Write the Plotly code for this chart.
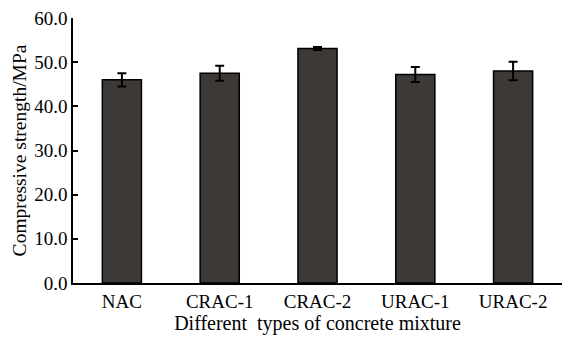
import plotly.graph_objects as go

categories = ["NAC", "CRAC-1", "CRAC-2", "URAC-1", "URAC-2"]
strength = [46.0, 47.5, 53.1, 47.2, 48.0]
errors = [1.5, 1.7, 0.35, 1.7, 2.1]

fig = go.Figure()
fig.add_trace(go.Bar(
    x=categories, y=strength,
    width=0.4,
    marker=dict(color="#3d3937", line=dict(color="#000000", width=1.5)),
    error_y=dict(type="data", array=errors, visible=True, color="#000000", thickness=2, width=4.5),
))

fam = "Liberation Serif, Times New Roman, serif"
tickfont = dict(family=fam, size=19, color="#000000")
xtitlefont = dict(family=fam, size=20, color="#000000")
ytitlefont = dict(family=fam, size=19.5, color="#000000")
fig.update_layout(
    width=562, height=337,
    margin=dict(l=73, r=0, t=18, b=54),
    paper_bgcolor="white", plot_bgcolor="white",
    font=tickfont,
    showlegend=False,
    xaxis=dict(
        range=[-0.5, 4.5], showline=True, linecolor="#000000", linewidth=1.5,
        ticks="", title=dict(text="Different\u00a0 types of concrete mixture", standoff=3, font=xtitlefont),
        tickfont=tickfont,
    ),
    yaxis=dict(
        range=[0, 60], dtick=10, tickformat=".1f", showline=True, linecolor="#000000", linewidth=1.5,
        ticks="inside", ticklen=5, tickcolor="#000000", tickwidth=1.5, showgrid=False, zeroline=False,
        title=dict(text="Compressive strength/MPa", standoff=2, font=ytitlefont), tickfont=tickfont,
    ),
)
fig.write_html("out.html", config={"displayModeBar": False})

with open("out.html", "r", encoding="utf-8") as f:
    html = f.read()
html = html.replace("<head>", "<head><style>html,body{margin:0;padding:0;overflow:hidden;}</style>", 1)
with open("out.html", "w", encoding="utf-8") as f:
    f.write(html)
